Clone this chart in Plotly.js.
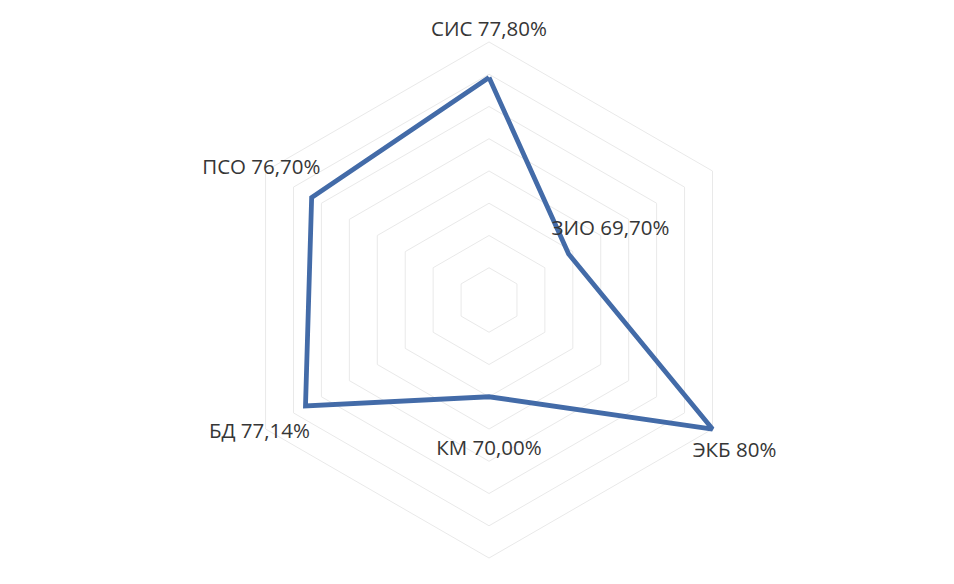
<!DOCTYPE html>
<html>
<head>
<meta charset="utf-8">
<script src="https://cdn.plot.ly/plotly-3.0.1.min.js"></script>
<style>
  html, body { margin: 0; padding: 0; background: #ffffff; }
  #chart { width: 954px; height: 584px; }
</style>
</head>
<body>
<div id="chart"></div>
<script>
// ---- data ----
const categories = ["СИС", "ЗИО", "ЭКБ", "КМ", "БД", "ПСО"];
const values = [77.80, 69.70, 80.00, 70.00, 77.14, 76.70];
const valueLabels = ["77,80%", "69,70%", "80%", "70,00%", "77,14%", "76,70%"];

// ---- presentation settings ----
const labelOffset = [2.9, 3.0, 1.58, 3.3, 3.3, 3.6]; // radial distance of data labels beyond each point
const labelPos = ["middle center", "middle center", "bottom center", "middle center", "middle center", "middle center"];
const lineColor = "#436ba8";
const gridColor = "#e9e9e9";
const textColor = "#363636";

const closedTheta = categories.concat([categories[0]]);
const closedR = values.concat([values[0]]);

const seriesTrace = {
  type: "scatterpolar",
  r: closedR,
  theta: closedTheta,
  mode: "lines",
  line: { color: lineColor, width: 4.8 },
  hoverinfo: "skip",
  showlegend: false
};

const labelTrace = {
  type: "scatterpolar",
  r: values.map((v, i) => v + labelOffset[i]),
  theta: categories,
  mode: "text",
  text: categories.map((c, i) => c + " " + valueLabels[i]),
  textposition: labelPos,
  textfont: { family: "Open Sans, sans-serif", size: 20.5, color: textColor },
  cliponaxis: false,
  hoverinfo: "skip",
  showlegend: false
};

// polar area: centre at (489, 300) px, value 80 at 258 px; range extended so labels fit
const layout = {
  width: 954,
  height: 584,
  margin: { l: 0, r: 0, t: 0, b: 0 },
  paper_bgcolor: "#ffffff",
  showlegend: false,
  polar: {
    domain: { x: [0.2149, 0.8103], y: [0.0, 0.9726] },
    gridshape: "linear",
    bgcolor: "#ffffff",
    radialaxis: {
      range: [64, 81.61],
      tick0: 64,
      dtick: 2,
      showticklabels: false,
      ticks: "",
      showline: false,
      gridcolor: gridColor,
      gridwidth: 1
    },
    angularaxis: {
      type: "category",
      categoryorder: "array",
      categoryarray: categories,
      rotation: 90,
      direction: "clockwise",
      showticklabels: false,
      ticks: "",
      showgrid: false,
      showline: false
    }
  }
};

Plotly.newPlot("chart", [seriesTrace, labelTrace], layout, { displayModeBar: false, staticPlot: true });
</script>
</body>
</html>
